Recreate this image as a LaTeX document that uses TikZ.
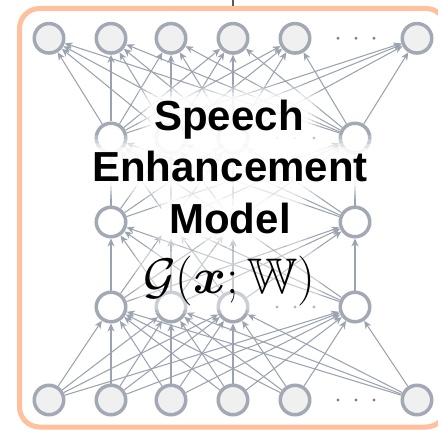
\RequirePackage{fix-cm}
\documentclass[tikz,border=0pt]{standalone}
\usepackage{amsmath,amssymb}
\usepackage{fontspec}
\newfontfamily\labelfont{Liberation Sans}
\usetikzlibrary{arrows.meta}
\definecolor{nodegray}{RGB}{162,169,180}
\definecolor{edgegray}{RGB}{155,163,176}
\definecolor{fillgray}{RGB}{240,240,240}
\definecolor{peach}{RGB}{255,192,158}
\definecolor{dotgray}{RGB}{128,128,128}
\definecolor{wiregray}{RGB}{90,90,90}
\pgfdeclarelayer{bg}
\pgfdeclarelayer{edges}
\pgfdeclarelayer{glow}
\pgfdeclarelayer{front}
\pgfsetlayers{bg,edges,main,glow,front}
\begin{document}
\begin{tikzpicture}[x=1pt,y=-1pt,
  neuron/.style={circle,draw=nodegray,line width=3.5pt,minimum size=29.5pt,inner sep=0pt},
  io/.style={neuron,fill=fillgray},
  hid/.style={neuron,fill=white},
  ghost/.style={circle,minimum size=29.5pt,inner sep=0pt,outer sep=1.75pt},
  edge/.style={draw=edgegray,line width=1.05pt,-{Stealth[length=8pt,width=7pt]}},
  dotmark/.style={circle,fill=dotgray,inner sep=0pt,minimum size=3.2pt},
  title/.style={font=\labelfont\bfseries\fontsize{42}{50}\selectfont,inner sep=0pt,text=black},
  frame/.style={draw=peach,line width=5pt,rounded corners=20pt},
  wire/.style={draw=wiregray,line width=1.5pt}
]
\clip (0,0) rectangle (438,430);
\begin{pgfonlayer}{bg}
\fill[white] (0,0) rectangle (438,430);
\end{pgfonlayer}
% frame and incoming wire
\draw[frame] (19.5,8.5) rectangle (446,427);
\coordinate (wtop) at (233,-5);
\coordinate (wend) at (233,6);
\draw[wire] (wtop) -- (wend);
% neurons
\foreach \n/\x in {1/49,2/111,3/171,4/233,5/295,6/417}{
  \node[io] (b\n) at (\x,400) {};
  \node[io] (t\n) at (\x,38.3) {};
}
\foreach \n/\x in {1/111,2/171,3/233,4/355}{
  \node[hid] (p\n) at (\x,307) {};
  \node[hid] (r\n) at (\x,138) {};
}
\node[hid] (q1) at (111,222) {};
\node[ghost] (q2) at (171,222) {};
\node[ghost] (q3) at (233,222) {};
\node[hid] (q4) at (355,222) {};
% dots
\foreach \x [count=\k] in {338,356,374}{
  \node[dotmark] (bd\k) at (\x,400) {};
  \node[dotmark] (td\k) at (\x,38.3) {};
}
\foreach \x [count=\k] in {277,295,314}{
  \node[dotmark] (pd\k) at (\x,307) {};
  \node[dotmark] (rd\k) at (\x,138) {};
}
% edges
\begin{pgfonlayer}{edges}
\foreach \i in {1,...,6}{\foreach \j in {1,...,4}{\draw[edge] (b\i) -- (p\j);}}
\foreach \i in {1,...,4}{\foreach \j in {1,...,4}{
  \draw[edge] (p\i) -- (q\j);
  \draw[edge] (q\i) -- (r\j);}}
\foreach \i in {1,...,4}{\foreach \j in {1,...,6}{\draw[edge] (r\i) -- (t\j);}}
\end{pgfonlayer}
% text
\begin{pgfonlayer}{front}
\node[title,anchor=base] (s1) at (229,131) {Speech};
\node[title,anchor=base] (s2) at (230,182) {Enhancement};
\node[title,anchor=base] (s3) at (230,233) {Model};
\node[anchor=base,inner sep=0pt,font=\fontsize{50}{56}\selectfont] (s4) at (229,293) {$\mathcal{G}(\boldsymbol{x};\mathbb{W})$};
\end{pgfonlayer}
\begin{pgfonlayer}{glow}
\foreach \s in {s1,s2,s3}{\foreach \d/\o in {16/0.2,12/0.3,8/0.45,4/0.7}{
  \fill[white,fill opacity=\o,rounded corners=10pt] ([shift={(-\d pt,-\d pt)}]\s.south west) rectangle ([shift={(\d pt,\d pt)}]\s.north east);}}
\foreach \d/\o in {8/0.2,4/0.3}{
  \fill[white,fill opacity=\o,rounded corners=8pt] ([shift={(-\d pt,-\d pt)}]s4.south west) rectangle ([shift={(\d pt,\d pt)}]s4.north east);}
\end{pgfonlayer}
\end{tikzpicture}
\end{document}
